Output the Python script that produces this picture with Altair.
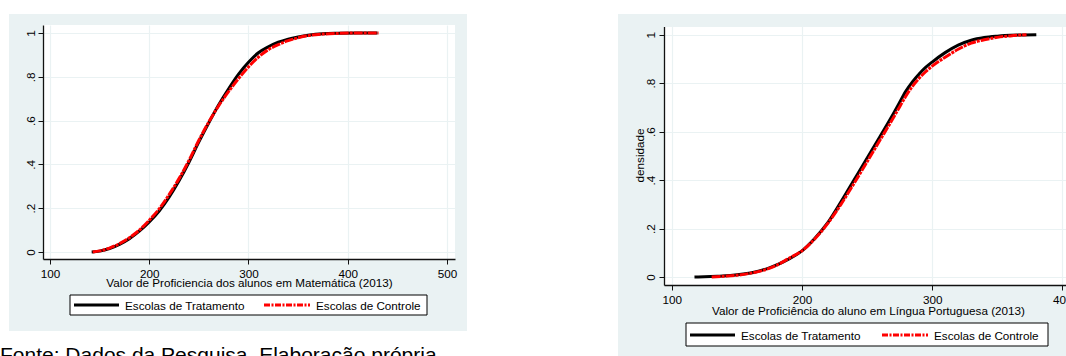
import altair as alt
import pandas as pd

# --- Matemática (2013): empirical cumulative distribution by group ---
mat_trat_x = [142, 150, 160, 170, 180, 190, 200, 210, 220, 230, 240, 250, 260, 270,
              280, 290, 300, 310, 320, 330, 340, 350, 360, 375, 390, 410, 430]
mat_trat_y = [0, 0.004, 0.016, 0.035, 0.061, 0.095, 0.137, 0.187, 0.25, 0.325, 0.41, 0.503,
              0.59, 0.672, 0.745, 0.812, 0.866, 0.91, 0.937, 0.958, 0.972, 0.982, 0.99,
              0.997, 0.999, 1.0, 1.0]
mat_ctrl_x = [143, 150, 160, 170, 180, 190, 200, 210, 220, 230, 240, 250, 260, 270,
              280, 290, 300, 310, 320, 330, 340, 350, 360, 375, 390, 410, 431]
mat_ctrl_y = [0, 0.005, 0.018, 0.038, 0.065, 0.1, 0.145, 0.197, 0.262, 0.335, 0.418, 0.51,
              0.594, 0.668, 0.733, 0.792, 0.845, 0.89, 0.924, 0.947, 0.965, 0.978, 0.988,
              0.995, 0.998, 1.0, 1.0]

# --- Língua Portuguesa (2013) ---
por_trat_x = [117.5, 125, 135, 145, 155, 165, 175, 185, 195, 200, 210, 220, 230, 240,
              250, 260, 270, 275, 280, 285, 290, 295, 300, 310, 320, 330, 340, 350, 360,
              370, 380]
por_trat_y = [0, 0.001, 0.003, 0.006, 0.012, 0.022, 0.038, 0.06, 0.09, 0.108, 0.16, 0.225,
              0.31, 0.40, 0.49, 0.58, 0.672, 0.72, 0.768, 0.806, 0.838, 0.865, 0.887,
              0.926, 0.957, 0.977, 0.988, 0.994, 0.998, 0.999, 1.0]
por_ctrl_x = [130.7, 140, 150, 160, 170, 180, 190, 200, 210, 220, 230, 240, 250, 260,
              270, 275, 280, 285, 290, 295, 300, 310, 320, 330, 340, 350, 360, 372.5]
por_ctrl_y = [0, 0.003, 0.007, 0.015, 0.027, 0.047, 0.077, 0.108, 0.158, 0.222, 0.3, 0.386,
              0.475, 0.565, 0.655, 0.702, 0.748, 0.788, 0.82, 0.847, 0.87, 0.907, 0.94,
              0.965, 0.979, 0.989, 0.995, 1.0]

series_names = ["Escolas de Tratamento", "Escolas de Controle"]
y_ticks = [0, 0.2, 0.4, 0.6, 0.8, 1]
mat_x_ticks = [100, 200, 300, 400, 500]
por_x_ticks = [100, 200, 300, 400]
mat_title = "Valor de Proficiencia dos alunos em Matemática (2013)"
por_title = "Valor de Proficiência do aluno em Língua Portuguesa (2013)"
por_ytitle = "densidade"
source_note = "Fonte: Dados da Pesquisa. Elaboração própria."

FONT = "Liberation Sans"
BG = "#EAF2F3"
KEY_DASH = [6, 1.5, 2, 1.5]
LINE_DASH = [9, 1, 3, 1]
ONE = alt.Data(values=[{}])
Y_LABELS = ("datum.value == 0 ? '0' : datum.value == 1 ? '1' : "
            "replace(format(datum.value, '.1f'), '0.', '.')")


def box(x, x2, y, y2, fill, stroke=None):
    kw = dict(fill=fill)
    if stroke:
        kw.update(stroke=stroke, strokeWidth=1)
    return alt.Chart(ONE).mark_rect(**kw).encode(
        x=alt.value(x), x2=alt.value(x2), y=alt.value(y), y2=alt.value(y2))


def label(txt, x, y, size=11.7):
    return alt.Chart(ONE).mark_text(
        text=txt, font=FONT, fontSize=size, align="left", baseline="alphabetic",
        color="black").encode(x=alt.value(x), y=alt.value(y))


def key_line(x, x2, y, color, dash=None):
    kw = dict(color=color, strokeWidth=3)
    if dash:
        kw.update(strokeDash=dash)
    return alt.Chart(ONE).mark_rule(**kw).encode(
        x=alt.value(x), x2=alt.value(x2), y=alt.value(y))


def legend(bx, bx2, by, by2, ly, ty, l1, l2):
    return [
        box(bx, bx2, by, by2, "white", "black"),
        key_line(l1, l1 + 45, ly, "black"),
        label(series_names[0], l1 + 51, ty),
        key_line(l2, l2 + 46, ly, "#FF0000", KEY_DASH),
        label(series_names[1], l2 + 52, ty),
    ]


def curves(tx, ty, cx, cy, xs, ys, xticks, xtitle, xpad, xtitle_y, ypad, ytitle=None):
    yaxis = dict(values=y_ticks, labelExpr=Y_LABELS, labelAngle=270, labelAlign="center",
                 labelBaseline="alphabetic", labelPadding=ypad)
    if ytitle:
        yaxis.update(title=ytitle, titleAngle=270, titleX=-21, titleY=130,
                     titleAlign="center", titleBaseline="alphabetic")
    else:
        yaxis.update(title=None)
    xaxis = dict(values=xticks, format="d", title=xtitle, labelBaseline="alphabetic",
                 labelPadding=xpad, titleY=xtitle_y, titleBaseline="alphabetic")
    enc = dict(x=alt.X("v:Q", scale=xs, axis=alt.Axis(**xaxis)),
               y=alt.Y("p:Q", scale=ys, axis=alt.Axis(**yaxis)))
    trat = pd.DataFrame({"v": tx, "p": ty})
    ctrl = pd.DataFrame({"v": cx, "p": cy})
    black = alt.Chart(trat).mark_line(color="black", strokeWidth=3,
                                      interpolate="monotone").encode(**enc)
    red = alt.Chart(ctrl).mark_line(color="#FF0000", strokeWidth=3, strokeDash=LINE_DASH,
                                    interpolate="monotone").encode(**enc)
    return black, red


# ---------- left panel: Matemática ----------
mx = alt.Scale(domain=[92.95, 508.06], zero=False, nice=False)
my = alt.Scale(domain=[-0.032, 1.0365], zero=False, nice=False)
m_black, m_red = curves(mat_trat_x, mat_trat_y, mat_ctrl_x, mat_ctrl_y, mx, my,
                        mat_x_ticks, mat_title, 13.7, 27.5, 4)
left = alt.layer(
    m_black, m_red,
    # white page around the shaded graph regions
    box(-43, 1041, -25, -11, "white"),
    box(-43, -34, -25, 345, "white"),
    box(-43, 424, 306, 345, "white"),
    box(424, 575, -25, 345, "white"),
    *legend(27, 384, 270, 290, 280, 284.5, 31, 221),
    label(source_note, -43, 337, size=21),
).properties(width=412, height=234)

# ---------- right panel: Língua Portuguesa ----------
px = alt.Scale(domain=[94.1, 407.4], zero=False, nice=False)
py = alt.Scale(domain=[-0.033, 1.040], zero=False, nice=False)
p_black, p_red = curves(por_trat_x, por_trat_y, por_ctrl_x, por_ctrl_y, px, py,
                        por_x_ticks, por_title, 13, 29, 5, por_ytitle)
right = alt.layer(
    box(-2, 412, -1, 2, BG),
    p_black, p_red,
    *legend(22, 384, 298, 321, 310, 314.5, 26, 218),
).properties(width=408, height=260)

chart = alt.hconcat(left, right, spacing=209, bounds="flush").configure(
    background=BG, font=FONT,
    padding={"left": 0, "top": 0, "right": -18, "bottom": -14},
).configure_view(
    fill="white", stroke=None,
).configure_axis(
    domainColor="#111111", domainWidth=1.3, tickColor="#111111", tickSize=5,
    tickWidth=1, labelFont=FONT, labelFontSize=11.7, labelColor="black",
    titleFont=FONT, titleFontSize=11.7, titleFontWeight="normal", titleColor="black",
    gridColor=BG, gridWidth=1.2, grid=True, labelFlush=False, labelOverlap=False,
)

chart.save("out.html", embed_options={"renderer": "svg", "actions": False})
